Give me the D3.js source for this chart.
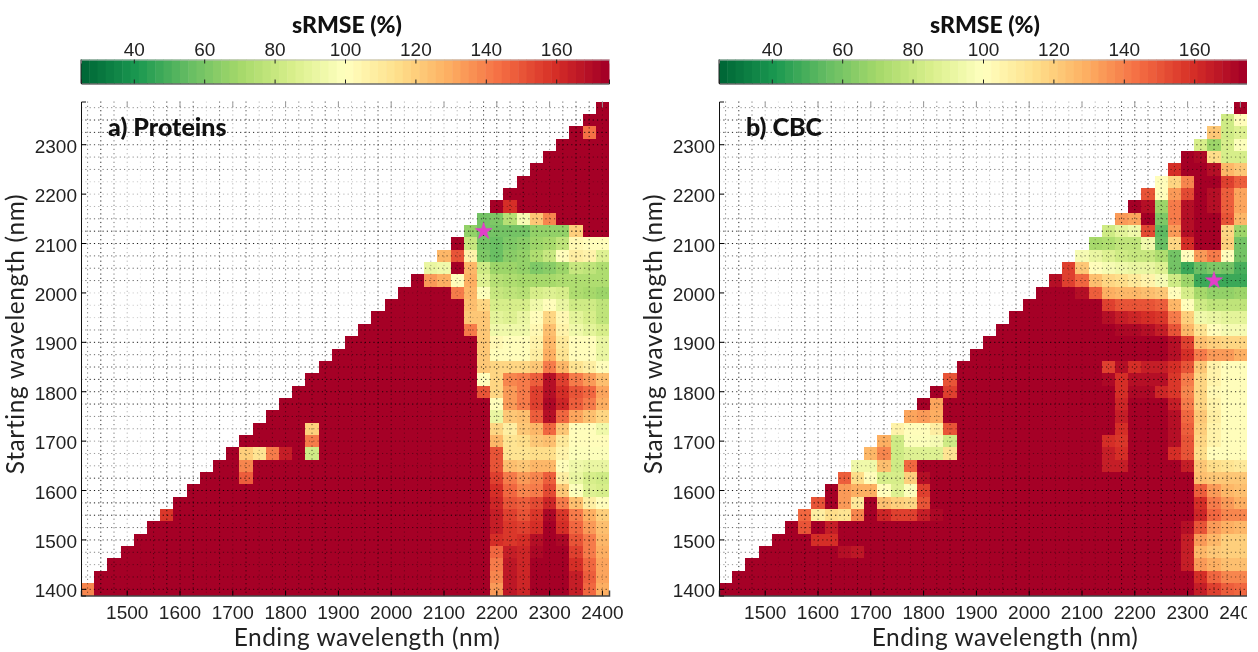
<!DOCTYPE html>
<html lang="en">
<head>
<meta charset="utf-8">
<title>sRMSE wavelength maps</title>
<script src="https://cdnjs.cloudflare.com/ajax/libs/d3/7.8.5/d3.min.js"></script>
<style>
body { margin: 0; background: #fff; }
svg { display: block; font-family: Lato, "Open Sans", sans-serif; filter: blur(0.35px); }
</style>
</head>
<body>
<script>
var startWavelengths = d3.range(40).map(function(i){ return 1400 + 25 * i; });
var endWavelengths = d3.range(40).map(function(i){ return 1425 + 25 * i; });

var xTicks = [1500, 1600, 1700, 1800, 1900, 2000, 2100, 2200, 2300, 2400];
var yTicks = [1400, 1500, 1600, 1700, 1800, 1900, 2000, 2100, 2200, 2300];
var colorTicks = [40, 60, 80, 100, 120, 140, 160];

// one entry per starting wavelength, 1400 first.
// runs are [first ending wavelength, value, value, ...], any cell not listed is off the top of the scale
var proteinsRows = [
	[[1425,138],[2200,134,166,163,175,175,175,165,145,130]],
	[[2200,138,166,163,175,175,175,165,148,132]],
	[[2200,140,166,163,175,175,175,160,145,132]],
	[[2200,145,165,162,172,175,173,155,140,130]],
	[[2200,160,158,160,168,175,172,150,140,128]],
	[[2200,165,158,155,160,173,160,145,135,125]],
	[[1575,158],[2200,165,155,150,158,172,158,142,130,120]],
	[[2200,162,150,148,152,162,140,125,108,102]],
	[[2200,160,145,138,142,152,122,98,88,85]],
	[[1725,148],[2200,155,140,135,138,148,108,92,85,82]],
	[[1725,138],[2200,150,125,122,128,128,100,95,92,92]],
	[[1725,120,112,140,165],[1850,83],[2200,150,112,112,115,115,105,98,98,98]],
	[[1850,142],[2200,128,112,115,122,125,110,100,100,100]],
	[[1850,120],[2200,118,108,122,128,145,122,100,100,95]],
	[[2200,92,122,125,148,168,145,132,125,118]],
	[[2200,100,135,140,155,172,162,148,140,130]],
	[[2175,150,118,135,140,155,170,160,150,145,132]],
	[[2175,100,118,138,142,148,168,155,140,135,125]],
	[[2175,122,118,118,118,122,142,128,112,108,100]],
	[[2175,122,100,100,100,108,130,112,100,100,92]],
	[[2175,122,103,100,100,105,128,110,100,100,92]],
	[[2150,140,122,95,93,95,103,124,105,95,90,85]],
	[[2150,122,122,90,88,92,100,118,103,90,85,78]],
	[[2150,125,118,85,85,85,95,100,92,82,82,78]],
	[[2125,142,128,98,80,78,76,84,88,84,74,70,68]],
	[[2075,135,130,100,130,88,75,72,70,70,70,72,72,72,72]],
	[[2075,92,95,175,128,82,68,68,66,62,64,68,80,78,74]],
	[[2100,128,150,105,62,57,64,66,72,80,100,108,105,88]],
	[[2150,80,58,56,62,64,68,70,78,103,100,100]],
	[[2150,65,58,60,60,60,65,66,67,120]],
	[[2175,60,62,75,97,122,138]],
	[[2225,160]],
	[], [], [], [], [],
	[[2375,143]],
	[], []
];

var cbcRows = [
	[[2325,165,155,148,145]],
	[[2300,175,160,145,138,138]],
	[[2300,165,135,130,125,125]],
	[[1650,170,166],[2300,165,128,122,120,120]],
	[[1600,160,160],[2300,165,135,128,120,120]],
	[[1575,150],[1625,165],[2300,170,150,135,130,128]],
	[[1575,145,108,115,112,138],[1725,162,155,155,165,172],[2325,162,145,138,138]],
	[[1600,150],[1650,135,110],[1725,125,120,118,150],[2325,160,142,135,130]],
	[[1650,135,130,130,100,88,98,155],[2325,148,135,128,125]],
	[[1650,148,115,100,85,85,120,168],[2325,125,122,122,122]],
	[[1675,95,95,125,82,145],[2150,165,165],[2300,165,122,115,112,110]],
	[[1700,128,138,82,88,88,88,112],[2150,165,160],[2275,160,150,115,102,100,100]],
	[[1725,130,82,98,98,97,82],[2150,160,158],[2275,170,150,118,105,100,100]],
	[[1750,105,102,100,108,150],[2175,160],[2275,170,148,120,105,100,100]],
	[[1775,132,135,130],[2175,165],[2275,170,145,122,108,102,100]],
	[[1825,132],[2175,162],[2275,165,140,118,105,100,100]],
	[[1850,155],[2150,175,160,172,172,162,158,138,118,103,100,100]],
	[[1850,150],[2150,172,160,170,170,168,158,140,118,105,100,100]],
	[[2150,155,168,160,165,165,160,150,122,105,102,102]],
	[[2275,168,160,140,135,133,130]],
	[[2275,170,155,125,120,118,118]],
	[[2175,172,172,168,165,150,128,112,100,97,97]],
	[[2150,168,165,162,160,158,142,120,95,92,90,90]],
	[[2150,155,150,150,150,148,128,100,82,78,78,78]],
	[[2100,168,148,130,128,128,125,122,100,85,70,66,66,68]],
	[[2050,170,155,145,125,118,115,110,105,97,83,68,48,47,47,47]],
	[[2075,155,122,100,97,93,92,92,88,60,48,56,62,60,50]],
	[[2100,97,92,88,82,80,80,72,58,100,135,140,102,60]],
	[[2125,70,72,78,78,95,57,118,160],[2375,120,58]],
	[[2150,82,90,95,152,55,135,170],[2375,118,68]],
	[[2175,135,132,175,62,142,170],[2375,150,128]],
	[[2225,170,68,142,170,175,170,148,132]],
	[[2225,150,100,133,152,175,170,148,132]],
	[[2250,100,118,138,175,175,155,148]],
	[[2275,160,175,175,168,128,122]],
	[[2325,172,115,85,85]],
	[[2325,85,68,85,98]],
	[[2350,122,82,88]],
	[[2375,82,100]],
	[]
];

// best model of each panel
var proteinsBest = [2175, 2125];
var cbcBest = [2350, 2025];

// how dark each dotted grid line comes out in the picture
var gridDarkV = [.5,.85,.55,.3,.15,.5,.75,.55,.7,.2,.6,.3,.7,.3,.4,.5,.5,.6,.7,.4,
	.3,.5,.7,.5,.3,.3,.3,.3,.3,.5,.8,.8,.7,.8,.5,.4,.6,.8,.7,.3];
var gridDarkH = [.45,.85,.85,.7,.45,.5,.2,.3,.3,.6,.9,.9,.6,.6,.6,.2,.2,.2,.5,.9,
	.6,.7,.85,.8,.85,.5,.4,.4,.4,.4,.85,.9,.9,.9,.6,.7,.5,.4,.5,.7];

var plotW = 528, plotH = 494, plotTop = 101.5;
var barTop = 59.5, barH = 24;
var levels = 64;

var ramp = d3.scaleLinear()
	.domain(d3.range(11).map(function(i){ return 25 + 15 * i; }))
	.range(d3.schemeRdYlGn[11].slice().reverse());

var color = d3.scaleQuantize()
	.domain([25, 175])
	.range(d3.range(levels).map(function(i){ return ramp(25 + 150 * i / (levels - 1)); }));

var x = d3.scaleBand().domain(endWavelengths).range([0, plotW]);
var y = d3.scaleBand().domain(startWavelengths).range([plotH, 0]);
var cb = d3.scaleLinear().domain([25, 175]).range([0, plotW]);

var svg = d3.select("body").append("svg")
	.attr("width", 1258)
	.attr("height", 652);

// the source picture is cut off here
svg.append("clipPath").attr("id", "page")
	.append("rect").attr("width", 1247).attr("height", 652);

var page = svg.append("g").attr("clip-path", "url(#page)");

function cellsOf(rows){
	var cells = [];
	startWavelengths.forEach(function(start, j){
		endWavelengths.forEach(function(end){
			if(end > start){
				cells.push({start: start, end: end, value: 175});
			}
		});
		rows[j].forEach(function(run){
			run.slice(1).forEach(function(v, k){
				var c = cells.find(function(d){ return d.start === start && d.end === run[0] + 25 * k; });
				if(c){ c.value = v; }
			});
		});
	});
	return cells;
}

function drawPanel(left, rows, best, label){
	var g = page.append("g").attr("transform", "translate(" + left + ",0)");

	// colour bar
	var bar = g.append("g").attr("transform", "translate(0," + barTop + ")");
	bar.selectAll("rect")
		.data(d3.range(levels))
		.enter()
		.append("rect")
		.attr("x", function(d){ return cb(25 + 150 * d / levels); })
		.attr("width", plotW / levels + 0.5)
		.attr("height", barH)
		.attr("fill", function(d){ return color(25 + 150 * (d + 0.5) / levels); });

	bar.append("g")
		.attr("class", "cbtop")
		.call(d3.axisTop(cb).tickValues(colorTicks).tickSize(-4).tickPadding(4));
	bar.append("g")
		.attr("transform", "translate(0," + barH + ")")
		.call(d3.axisBottom(cb).tickValues(colorTicks).tickSize(-4).tickFormat(""));
	bar.selectAll(".domain").attr("stroke", "#222");
	bar.select(".cbtop .domain").attr("stroke", "#bbb");
	bar.append("line").attr("y2", barH).attr("stroke", "#222");
	bar.selectAll("text").attr("font-size", 19).attr("fill", "#222");
	bar.selectAll(".tick line").attr("stroke", "#222");

	g.append("text")
		.attr("x", plotW / 2 + 2)
		.attr("y", 33)
		.attr("text-anchor", "middle")
		.attr("font-size", 23)
		.attr("font-weight", 900)
		.attr("fill", "#111")
		.text("sRMSE (%)");

	// heat map
	var plot = g.append("g").attr("transform", "translate(0," + plotTop + ")");
	plot.selectAll("rect")
		.data(cellsOf(rows))
		.enter()
		.append("rect")
		.attr("x", function(d){ return x(d.end); })
		.attr("y", function(d){ return y(d.start); })
		.attr("width", x.bandwidth())
		.attr("height", y.bandwidth())
		.attr("shape-rendering", "crispEdges")
		.attr("fill", function(d){ return color(d.value); });

	// dotted grid on every cell centre
	plot.selectAll(".gv")
		.data(endWavelengths)
		.enter()
		.append("line")
		.attr("x1", function(d){ return x(d) + x.bandwidth() / 2; })
		.attr("x2", function(d){ return x(d) + x.bandwidth() / 2; })
		.attr("y1", 0)
		.attr("y2", plotH)
		.attr("stroke", "#000")
		.attr("stroke-opacity", function(d, i){ return gridDarkV[i]; })
		.attr("stroke-width", 1)
		.attr("stroke-dasharray", "1.2 3.1");
	plot.selectAll(".gh")
		.data(startWavelengths)
		.enter()
		.append("line")
		.attr("x1", 0)
		.attr("x2", plotW)
		.attr("y1", function(d){ return y(d) + y.bandwidth() / 2; })
		.attr("y2", function(d){ return y(d) + y.bandwidth() / 2; })
		.attr("stroke", "#000")
		.attr("stroke-opacity", function(d, i){ return gridDarkH[39 - i]; })
		.attr("stroke-width", 1)
		.attr("stroke-dasharray", "1.2 3.1");

	// axes
	var xAxis = plot.append("g")
		.attr("transform", "translate(0," + plotH + ")")
		.call(d3.axisBottom(x).tickValues(xTicks).tickSize(-5).tickPadding(10));
	var yAxis = plot.append("g")
		.call(d3.axisLeft(y).tickValues(yTicks).tickSize(-5).tickPadding(4));
	var topAxis = plot.append("g")
		.call(d3.axisTop(x).tickValues(xTicks).tickSize(-6).tickFormat(""));

	xAxis.select(".domain").attr("stroke", "#444").attr("stroke-width", 1.5);
	yAxis.select(".domain").attr("stroke", "#111");
	topAxis.select(".domain").remove();
	topAxis.selectAll("line").attr("stroke", "#999");
	xAxis.selectAll("text").attr("font-size", 19).attr("fill", "#222");
	yAxis.selectAll("text").attr("font-size", 19).attr("fill", "#222").attr("dy", "0.42em");

	plot.append("path")
		.attr("d", d3.symbol().type(d3.symbolStar).size(90))
		.attr("transform", "translate(" + (x(best[0]) + x.bandwidth() / 2) + "," + (y(best[1]) + y.bandwidth() / 2) + ")")
		.attr("fill", "#e23fc9")
		.attr("stroke", "#e23fc9")
		.attr("stroke-width", 0.5);

	g.append("text")
		.attr("x", 27)
		.attr("y", 136)
		.attr("font-size", 25)
		.attr("font-weight", 900)
		.attr("fill", "#111")
		.text(label);

	g.append("text")
		.attr("x", 286)
		.attr("y", 646)
		.attr("text-anchor", "middle")
		.attr("font-size", 24.5)
		.attr("letter-spacing", 0.5)
		.attr("fill", "#222")
		.text("Ending wavelength (nm)");

	g.append("text")
		.attr("transform", "translate(-57,334) rotate(-90)")
		.attr("text-anchor", "middle")
		.attr("font-size", 24.5)
		.attr("letter-spacing", 0.6)
		.attr("fill", "#222")
		.text("Starting wavelength (nm)");
}

drawPanel(81, proteinsRows, proteinsBest, "a) Proteins");
drawPanel(719, cbcRows, cbcBest, "b) CBC");
</script>
</body>
</html>
